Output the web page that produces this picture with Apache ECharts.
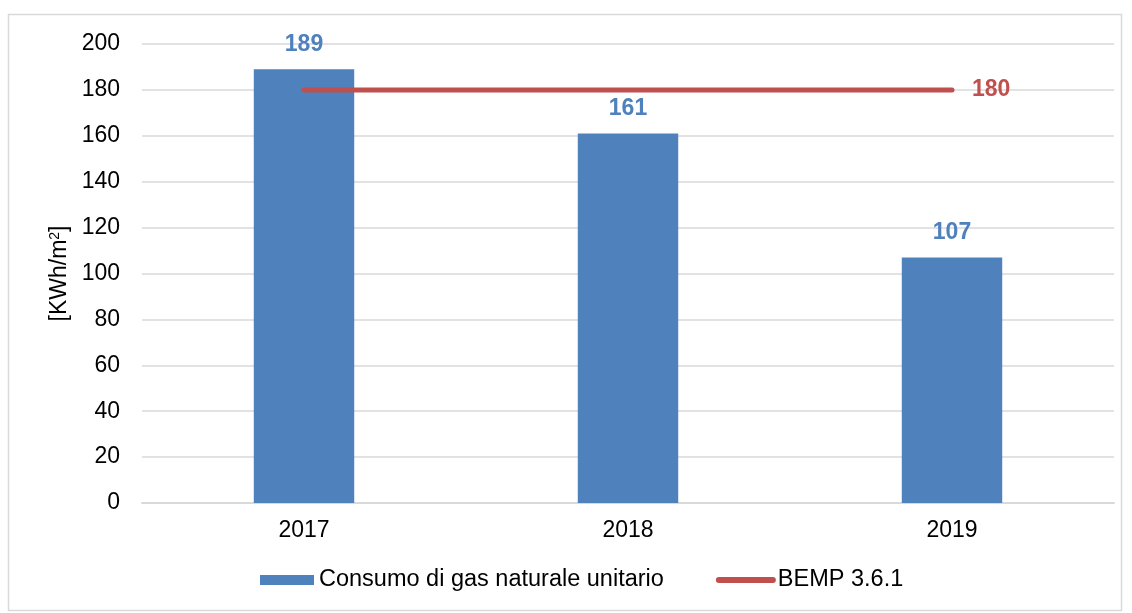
<!DOCTYPE html>
<html>
<head>
<meta charset="utf-8">
<script src="https://cdn.jsdelivr.net/npm/echarts@6/dist/echarts.min.js"></script>
<style>
html, body { margin: 0; padding: 0; background: #fff; }
#chart { width: 1132px; height: 613px; }
</style>
</head>
<body>
<div id="chart"></div>
<script>
var years = ['2017', '2018', '2019'];
var consumo = [189, 161, 107];
var bemp = [180, 180, 180];
var yTicks = [0, 20, 40, 60, 80, 100, 120, 140, 160, 180, 200];

var chart = echarts.init(document.getElementById('chart'));
var font = '"Liberation Sans", Arial, sans-serif';

chart.setOption({
	animation: false,
	textStyle: { fontFamily: font },
	graphic: [{
		type: 'rect',
		shape: { x: 8.5, y: 14.5, width: 1113, height: 596 },
		style: { fill: 'none', stroke: '#d9d9d9', lineWidth: 1.5 },
		silent: true
	}],
	grid: { left: 142, right: 18, top: 44, bottom: 110 },
	legend: {
		bottom: 16,
		left: 255,
		itemGap: 52,
		itemWidth: 54,
		itemHeight: 10,
		textStyle: { fontSize: 23.5, color: '#000', fontFamily: font },
		data: [
			{ name: 'Consumo di gas naturale unitario', icon: 'rect' },
			{
				name: 'BEMP 3.6.1',
				itemStyle: { opacity: 0 },
				lineStyle: { color: '#C0504D', width: 6, cap: 'round' }
			}
		]
	},
	xAxis: {
		type: 'category',
		data: years,
		axisLine: { lineStyle: { color: '#d9d9d9', width: 2 } },
		axisTick: { show: false },
		axisLabel: { fontSize: 23, color: '#000', margin: 16, fontFamily: font }
	},
	yAxis: {
		type: 'value',
		min: 0,
		max: 200,
		interval: 20,
		name: '[KWh/m{sup|2}]',
		nameLocation: 'middle',
		nameGap: 70,
		nameTextStyle: {
			fontSize: 23, color: '#000', fontFamily: font,
			rich: { sup: { fontSize: 14, verticalAlign: 'top', padding: [0, 0, 8, 0], color: '#000' } }
		},
		axisLine: { show: false },
		axisTick: { show: false },
		splitLine: { lineStyle: { color: '#d9d9d9', width: 1.5 } },
		axisLabel: {
			fontSize: 23, color: '#000', margin: 22, fontFamily: font,
			formatter: function (v) { return yTicks.indexOf(v) >= 0 ? String(v) : ''; }
		}
	},
	series: [{
		name: 'Consumo di gas naturale unitario',
		type: 'bar',
		data: consumo,
		barWidth: '31%',
		itemStyle: { color: '#4F81BD' },
		label: {
			show: true,
			position: 'top',
			distance: 13,
			fontSize: 23,
			fontWeight: 'bold',
			color: '#4F81BD',
			fontFamily: font
		}
	}, {
		name: 'BEMP 3.6.1',
		type: 'line',
		data: bemp,
		showSymbol: false,
		symbol: 'none',
		itemStyle: { color: '#C0504D' },
		lineStyle: { color: '#C0504D', width: 5, cap: 'round' },
		label: { show: false },
		endLabel: {
			show: true,
			distance: 20,
			fontSize: 23,
			fontWeight: 'bold',
			color: '#C0504D',
			fontFamily: font
		}
	}]
});
</script>
</body>
</html>
